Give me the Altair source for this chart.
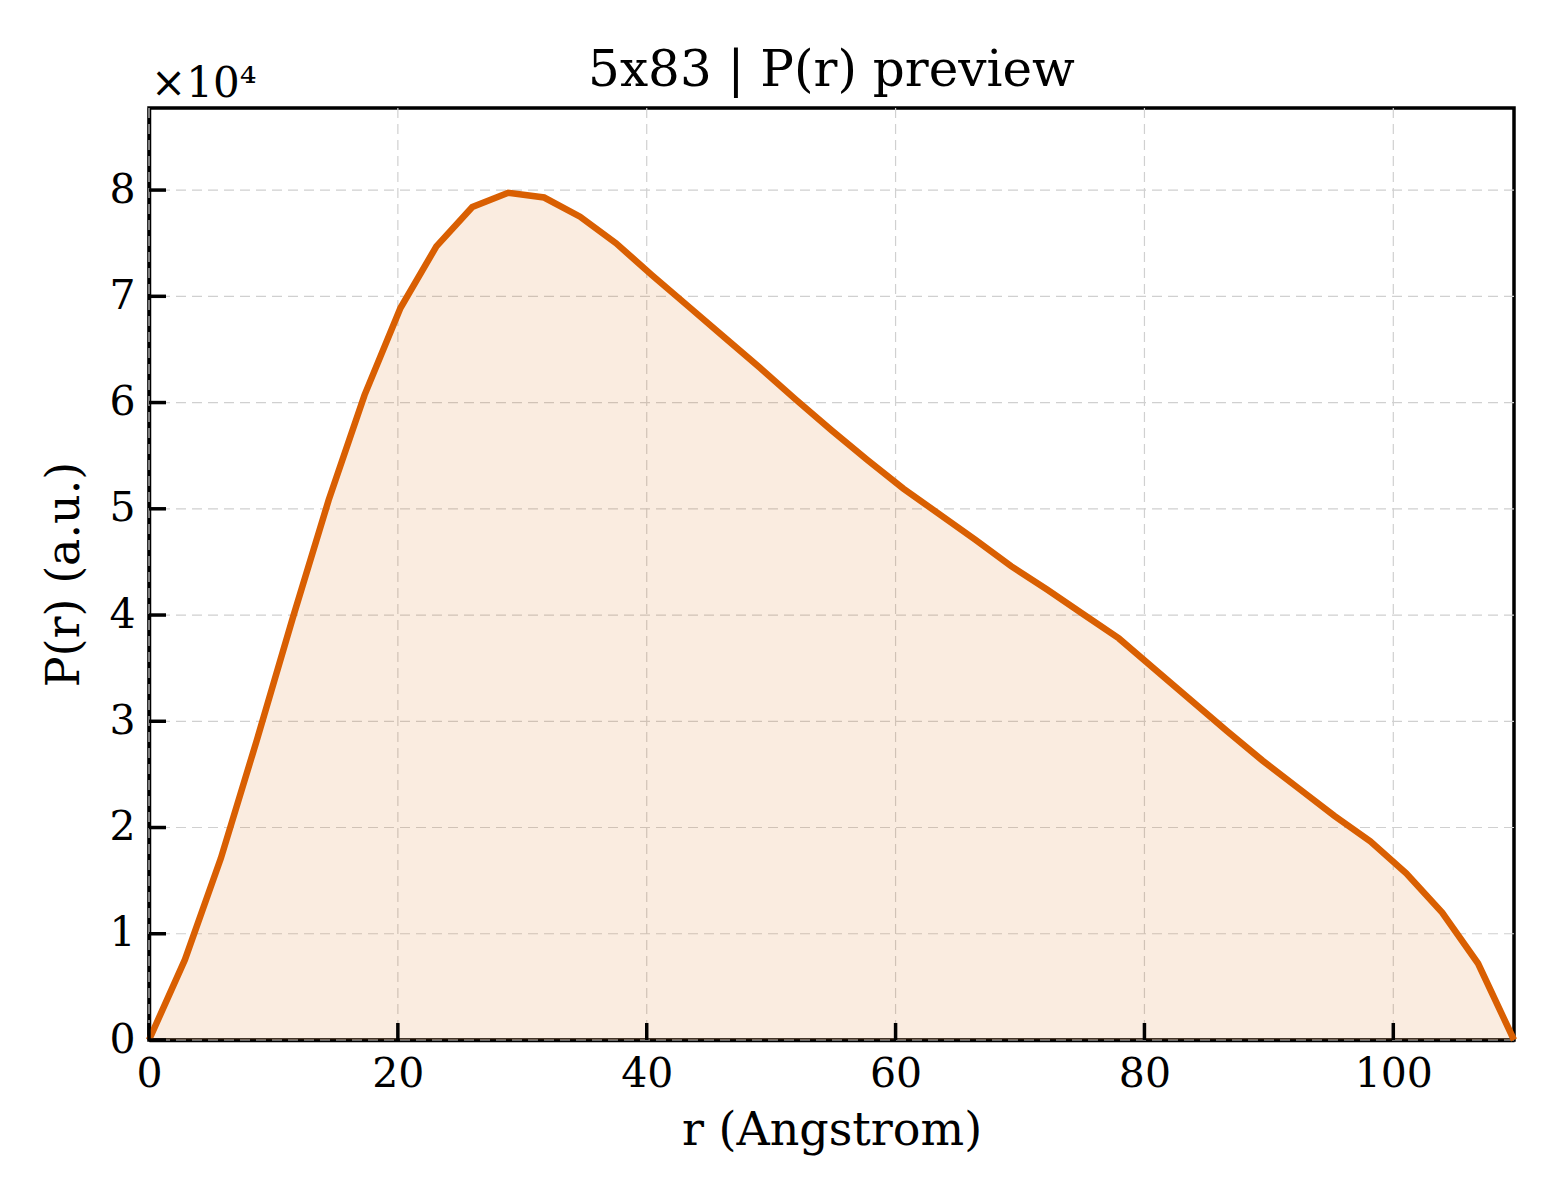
import altair as alt
import pandas as pd

# r grid (Angstrom) and P(r)
r_max = 109.7
n_pts = 39
r_vals = [round(k * r_max / (n_pts - 1), 3) for k in range(n_pts)]
p_vals = [
    0, 7560, 17100, 28200, 39700, 50800, 60700, 68900, 74700, 78400,
    79750, 79300, 77500, 75000, 72000, 69100, 66200, 63300, 60300, 57400,
    54600, 51900, 49500, 47100, 44600, 42400, 40100, 37800, 34900, 32000,
    29100, 26300, 23700, 21100, 18700, 15700, 12000, 7200, 0,
]
x_ticks = [0, 20, 40, 60, 80, 100]
y_ticks = [0, 10000, 20000, 30000, 40000, 50000, 60000, 70000, 80000]

df = pd.DataFrame({"r": r_vals, "p": p_vals})

ORANGE = "#d95f02"
FONT = "DejaVu Serif"
W, H = 1365, 932
TICK = 17
y_top = max(p_vals) * 1.1

x_scale = alt.Scale(domain=[0, r_max], nice=False, zero=False)
y_scale = alt.Scale(domain=[0, y_top], nice=False)

x_axis = alt.Axis(
    values=x_ticks, title="r (Angstrom)", format="d", ticks=False, grid=False,
    labelPadding=14, labelFlush=False, labelOverlap=False, titlePadding=14,
)
y_axis = alt.Axis(
    values=y_ticks, title="P(r) (a.u.)", labelExpr="datum.value / 10000",
    ticks=False, grid=False, labelPadding=14, labelFlush=False,
    labelOverlap=False, titlePadding=20,
)
x_enc = alt.X("r:Q", scale=x_scale, axis=x_axis)
y_enc = alt.Y("p:Q", scale=y_scale, axis=y_axis)

x_tick_df = pd.DataFrame({"r": x_ticks})
y_tick_df = pd.DataFrame({"p": y_ticks})

# dashed grid drawn from the tick values
x_grid = alt.Chart(x_tick_df).mark_rule(
    color="#d0d0d0", strokeWidth=1.2, strokeDash=[10, 6]
).encode(x=x_enc)
y_grid = alt.Chart(y_tick_df).mark_rule(
    color="#d0d0d0", strokeWidth=1.2, strokeDash=[10, 6]
).encode(y=y_enc)

base = alt.Chart(df)
area = base.mark_area(color=ORANGE, opacity=0.12).encode(x=x_enc, y=y_enc)
line = base.mark_line(color=ORANGE, strokeWidth=6.5).encode(x=x_enc, y=y_enc)

# inward ticks (matplotlib style) on bottom and left spines
x_tick_marks = alt.Chart(x_tick_df).mark_rule(
    color="black", strokeWidth=3.5
).encode(x=x_enc, y=alt.value(H), y2=alt.value(H - TICK))
y_tick_marks = alt.Chart(y_tick_df).mark_rule(
    color="black", strokeWidth=3.5
).encode(y=y_enc, x=alt.value(0), x2=alt.value(TICK))

offset_txt = alt.Chart(pd.DataFrame({"t": ["×10⁴"]})).mark_text(
    align="left", baseline="alphabetic", font=FONT, fontSize=42, color="black"
).encode(x=alt.value(2), y=alt.value(-11), text="t:N")

chart = (
    alt.layer(x_grid, y_grid, area, line, x_tick_marks, y_tick_marks, offset_txt)
    .properties(
        width=W,
        height=H,
        title=alt.TitleParams("5x83 | P(r) preview", font=FONT, fontSize=50,
                              fontWeight="normal", color="black", offset=-33),
        autosize="none",
        padding={"left": 141, "top": 100, "right": 30, "bottom": 150},
    )
    .configure_view(stroke="black", strokeWidth=3.5)
    .configure_axis(
        labelFont=FONT, titleFont=FONT, labelFontSize=41, titleFontSize=46,
        titleFontWeight="normal", labelColor="black", titleColor="black",
        domainColor="black", domainWidth=3.5,
    )
)

chart.save("out.html", embed_options={"renderer": "svg", "actions": False})
